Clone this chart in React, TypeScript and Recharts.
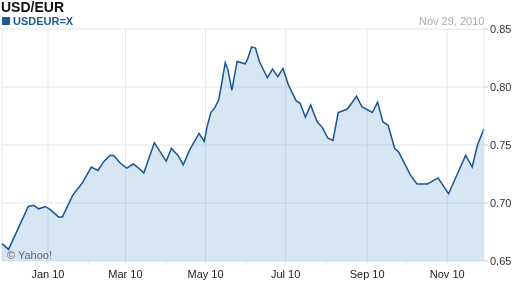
import { AreaChart, Area, XAxis, YAxis, CartesianGrid } from 'recharts';

// days counted from Nov 27, 2009 (left edge of the plot)
const days = [
  0, 5, 20, 24, 28, 33, 37, 43, 46, 54, 61, 68, 73, 77, 82, 85, 90, 95, 100, 103,
  108, 116, 125, 129, 134, 138, 143, 150, 154, 156, 159, 162, 165, 166, 170, 172,
  175, 179, 185, 187, 190, 193, 196, 202, 206, 210, 214, 218, 224, 227, 231, 235,
  240, 244, 248, 252, 256, 263, 270, 274, 282, 286, 290, 294, 299, 302, 311, 316,
  324, 332, 340, 353, 358, 362, 367,
];
const rates = [
  0.665, 0.66, 0.697, 0.698, 0.695, 0.697, 0.694, 0.688, 0.688, 0.707, 0.717, 0.731,
  0.728, 0.735, 0.741, 0.741, 0.7345, 0.73, 0.7336, 0.731, 0.726, 0.752, 0.736, 0.747,
  0.741, 0.733, 0.746, 0.76, 0.753, 0.765, 0.778, 0.782, 0.789, 0.795, 0.821, 0.815,
  0.797, 0.822, 0.82, 0.824, 0.8345, 0.8336, 0.822, 0.808, 0.8155, 0.809, 0.816, 0.802,
  0.788, 0.786, 0.774, 0.7845, 0.77, 0.765, 0.756, 0.754, 0.778, 0.781, 0.792, 0.783,
  0.778, 0.787, 0.77, 0.767, 0.747, 0.744, 0.724, 0.7164, 0.7164, 0.7216, 0.708, 0.741,
  0.731, 0.75, 0.764,
];

// first day of each month on the same day scale
const monthDays = [35, 66, 94, 125, 155, 186, 216, 247, 278, 308, 339];
const monthLabels = ['Jan 10', '', 'Mar 10', '', 'May 10', '', 'Jul 10', '', 'Sep 10', '', 'Nov 10'];
const gridDays = [0, 35, 94, 155, 216, 278, 339];
const yTicks = [0.65, 0.7, 0.75, 0.8, 0.85];

const data = days.map((d, i) => ({ day: d, rate: rates[i] }));

const font = '"Liberation Sans", Arial, sans-serif';

export default function App() {
  return (
    <div
      style={{
        position: 'fixed',
        left: 0,
        top: 0,
        width: 512,
        height: 288,
        background: '#fff',
        fontFamily: font,
      }}
    >
      <div
        style={{
          position: 'absolute',
          left: 1,
          top: 0,
          fontSize: 14,
          lineHeight: '14px',
          fontWeight: 'bold',
          color: '#111',
        }}
      >
        USD/EUR
      </div>
      <div
        style={{
          position: 'absolute',
          left: 2,
          top: 16,
          fontSize: 11,
          lineHeight: '10px',
          fontWeight: 'bold',
          color: '#1e5a96',
          display: 'flex',
          alignItems: 'center',
        }}
      >
        <span style={{ display: 'inline-block', width: 8, height: 8, background: '#1e5a96', marginRight: 3 }} />
        USDEUR=X
      </div>
      <div
        style={{ position: 'absolute', left: 419, top: 16, fontSize: 11, lineHeight: '11px', color: '#aaa' }}
      >
        Nov 29, 2010
      </div>
      <div
        style={{
          position: 'absolute',
          left: 7,
          top: 250,
          fontSize: 11,
          lineHeight: '11px',
          color: '#666',
          zIndex: 2,
        }}
      >
        © Yahoo!
      </div>
      <AreaChart width={512} height={288} data={data} margin={{ top: 29, right: 0, left: 2, bottom: 0 }}>
        <CartesianGrid stroke="#e4e7ee" horizontalValues={yTicks} verticalValues={gridDays} />
        <XAxis
          dataKey="day"
          type="number"
          domain={[0, 367]}
          ticks={monthDays}
          tickFormatter={(v: number) => monthLabels[monthDays.indexOf(v)]}
          height={27}
          tickSize={4}
          tickMargin={5}
          tick={{ fontSize: 11, fill: '#222', fontFamily: font }}
          tickLine={{ stroke: '#e4e7ee' }}
          axisLine={false}
        />
        <YAxis
          orientation="right"
          domain={[0.65, 0.85]}
          ticks={yTicks}
          tickFormatter={(v: number) => v.toFixed(2)}
          width={28}
          tickSize={4}
          tickMargin={2}
          tick={{ fontSize: 11, fill: '#333', fontFamily: font }}
          tickLine={{ stroke: '#ccc' }}
          axisLine={{ stroke: '#e4e7ee' }}
        />
        <Area
          dataKey="rate"
          type="linear"
          stroke="#1b5592"
          strokeWidth={1.5}
          fill="#5b9bd0"
          fillOpacity={0.25}
          isAnimationActive={false}
        />
      </AreaChart>
    </div>
  );
}
